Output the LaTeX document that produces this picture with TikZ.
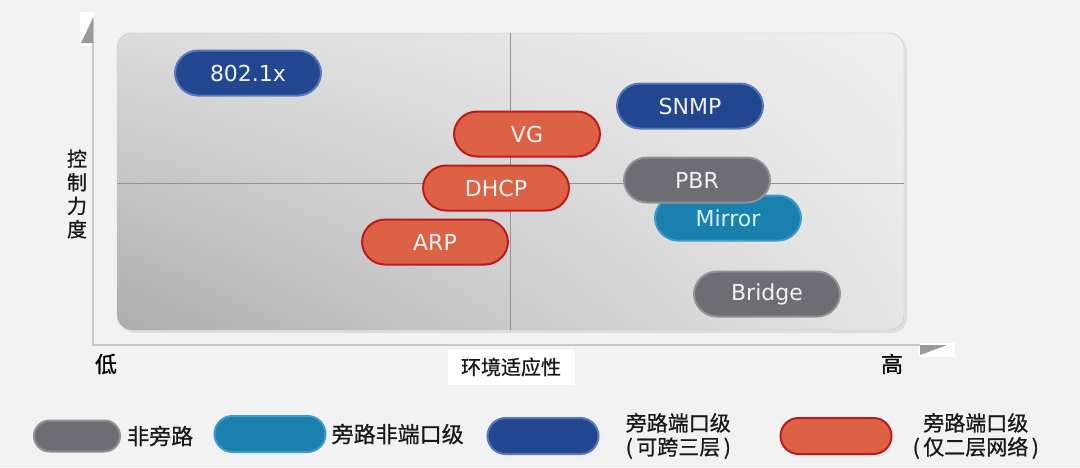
\documentclass[tikz,border=0pt]{standalone}
\usepackage{fontspec}
\setsansfont{DejaVu Sans}
\newfontfamily\cjk[FakeBold=0.8]{Noto Sans CJK SC}
\usetikzlibrary{positioning,shadings}
\definecolor{bgc}{HTML}{F2F2F2}
\definecolor{grf}{HTML}{6B6E73}\definecolor{grb}{HTML}{8E9196}
\definecolor{tlf}{HTML}{1A80AE}\definecolor{tlb}{HTML}{3D9CC9}\definecolor{tlt}{HTML}{D5F3FF}
\definecolor{blf}{HTML}{22468F}\definecolor{blb}{HTML}{5878BA}
\definecolor{rdf}{HTML}{DD6145}\definecolor{rdb}{HTML}{BE1A1E}
\definecolor{pul}{HTML}{DCDCDC}\definecolor{pur}{HTML}{F0F0F0}
\definecolor{pll}{HTML}{ADADAD}\definecolor{plr}{HTML}{E6E6E6}
\definecolor{axc}{HTML}{C8C8C8}\definecolor{arc}{HTML}{9A9A9A}\definecolor{qc}{HTML}{939393}
\tikzset{pill/.style={draw, line width=2pt, rounded corners=23pt, minimum width=146pt, minimum height=45pt,
    inner sep=0pt, text=white!95!black, font=\sffamily\fontsize{22}{26}\selectfont},
  grp/.style={pill, fill=grf, draw=grb},
  tlp/.style={pill, fill=tlf, draw=tlb, text=tlt},
  blp/.style={pill, fill=blf, draw=blb},
  rdp/.style={pill, fill=rdf, draw=rdb},
  key/.style={minimum width=111pt, minimum height=36pt, rounded corners=18pt},
  keytxt/.style={inner sep=0pt, align=center, text=black!90, font=\cjk\fontsize{21}{24}\selectfont}}

\begin{document}
\begin{tikzpicture}[x=1pt,y=-1pt]
  \fill[bgc] (0,0) rectangle (1080,467);
  % axes
  \fill[white] (80,12) rectangle (94,46);
  \fill[white] (919,343) rectangle (955,357);
  \draw[axc, line width=1.5pt] (93,18) -- (93,345) -- (920,345);
  \fill[arc] (81,43) -- (93,43) -- (93,18) -- cycle;
  \fill[arc] (920,345) -- (947,345) -- (920,355) -- cycle;
  % panel
  \fill[gray!25, rounded corners=15pt] (120,36) rectangle (907,333);
  \shade[rounded corners=15pt, upper left=pul, upper right=pur, lower left=pll, lower right=plr]
    (117,33) rectangle (904,330);
  \draw[gray!45, rounded corners=15pt] (117,33) rectangle (904,330);
  \draw[qc, line width=0.8pt] (510,33) -- (510,330);
  \draw[qc, line width=0.8pt] (117,183) -- (904,183);
  % methods
  \node[blp] (dot1x) at (248,73) {802.1x};
  \node[blp] (snmp) at (690,106) {SNMP};
  \node[rdp] (vg) at (527,134) {VG};
  \node[rdp] (dhcp) at (496,188) {DHCP};
  \node[rdp] (arp) at (435,242) {ARP};
  \node[tlp] (mirror) at (728,218) {Mirror};
  \node[grp] (pbr) at (697,180) {PBR};
  \node[grp] (bridge) at (767,294) {Bridge};
  % axis labels
  \node[align=center, inner sep=0pt, text=black!90, font=\cjk\fontsize{20}{23.5}\selectfont] (ylab) at (77,194) {控\\制\\力\\度};
  \node[fill=white, inner sep=0pt, minimum width=127pt, minimum height=35pt, text=black!90,
    font=\cjk\fontsize{20}{24}\selectfont] (xlab) at (511,367) {环境适应性};
  \node[inner sep=0pt, font=\cjk\fontsize{22}{26}\selectfont] (lo) at (106,364) {低};
  \node[inner sep=0pt, font=\cjk\fontsize{22}{26}\selectfont] (hi) at (892,364) {高};
  % legend
  \node[grp, key, minimum width=86pt, minimum height=31pt, rounded corners=15.5pt] (kg) at (77,436) {};
  \node[keytxt, font=\cjk\fontsize{22}{26}\selectfont, right=6pt of kg] (kgt) {非旁路};
  \node[tlp, key] (kt) at (270,434) {};
  \node[keytxt, font=\cjk\fontsize{22}{26}\selectfont, right=5pt of kt] (ktt) {旁路非端口级};
  \node[blp, key] (kb) at (543,436) {};
  \node[keytxt, right=26pt of kb] (kbt) {旁路端口级\\(\,可跨三层\,)};
  \node[rdp, key] (kr) at (836,436) {};
  \node[keytxt, right=20pt of kr] (krt) {旁路端口级\\(\,仅二层网络\,)};
\end{tikzpicture}
\end{document}
